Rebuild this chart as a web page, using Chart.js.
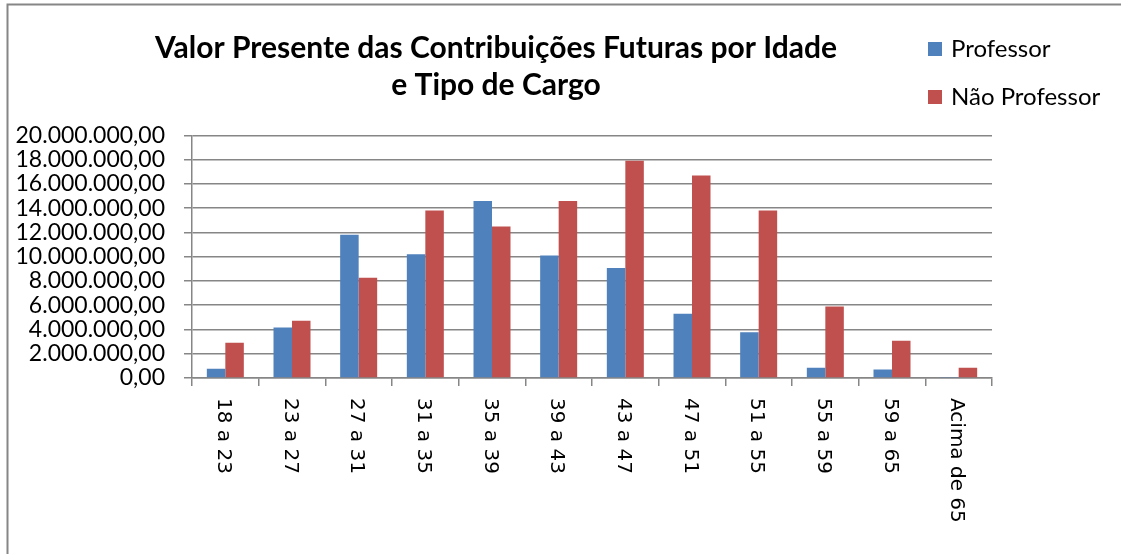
<html>
<head>
    <title>Valor Presente das Contribuições Futuras</title>
    <meta charset="utf-8">
    <script src="https://cdn.jsdelivr.net/npm/chart.js@4.4.1/dist/chart.umd.min.js"></script>
    <style>
        html, body { margin: 0; padding: 0; background: #fff; }
        #wrap { width: 1121px; height: 554px; }
    </style>
</head>
<body>
    <div id="wrap"><canvas id="chart"></canvas></div>
    <script>
        // faixas etarias
        const faixas = ['18 a 23', '23 a 27', '27 a 31', '31 a 35', '35 a 39', '39 a 43',
            '43 a 47', '47 a 51', '51 a 55', '55 a 59', '59 a 65', 'Acima de 65'];
        const professor = [770000, 4160000, 11800000, 10200000, 14600000, 10100000,
            9070000, 5290000, 3780000, 850000, 710000, 50000];
        const naoProfessor = [2900000, 4710000, 8270000, 13800000, 12500000, 14600000,
            17900000, 16700000, 13800000, 5890000, 3070000, 850000];
        const yMin = 0, yMax = 20000000, yStep = 2000000;
        const titulo = ['Valor Presente das Contribuições Futuras por Idade', 'e Tipo de Cargo'];

        const AZUL = '#4F81BD';
        const VERMELHO = '#C0504D';
        const CINZA = '#868686';

        // 20000000 -> "20.000.000,00"
        function formatBR(v) {
            const inteiro = Math.round(v).toString().replace(/\B(?=(\d{3})+(?!\d))/g, '.');
            return inteiro + ',00';
        }

        /* moldura + fundo */
        const moldura = {
            id: 'moldura',
            beforeDraw(chart) {
                const ctx = chart.ctx;
                ctx.save();
                ctx.fillStyle = '#fff';
                ctx.fillRect(0, 0, chart.width, chart.height);
                ctx.strokeStyle = CINZA;
                ctx.lineWidth = 2;
                ctx.beginPath();
                ctx.moveTo(7.5, chart.height + 2);
                ctx.lineTo(7.5, 4.5);
                ctx.lineTo(chart.width + 2, 4.5);
                ctx.stroke();
                ctx.restore();
            }
        };

        /* legenda no canto superior direito */
        const legenda = {
            id: 'legenda',
            afterDraw(chart) {
                const ctx = chart.ctx;
                const itens = chart.data.datasets;
                ctx.save();
                ctx.font = '24px Lato';
                ctx.textBaseline = 'middle';
                ctx.textAlign = 'left';
                for (let i = 0; i < itens.length; i++) {
                    const y = 49 + i * 48;
                    ctx.fillStyle = itens[i].backgroundColor;
                    ctx.fillRect(928, y - 7, 14, 14);
                    ctx.fillStyle = '#000';
                    ctx.fillText(itens[i].label, 951, y);
                }
                ctx.restore();
            }
        };

        /* rotulos do eixo x girados 90 graus (lidos de cima para baixo) */
        const rotulosX = {
            id: 'rotulosX',
            afterDraw(chart) {
                const ctx = chart.ctx;
                const xs = chart.scales.x;
                ctx.save();
                ctx.font = '20px "DejaVu Sans"';
                ctx.fillStyle = '#000';
                ctx.textAlign = 'left';
                ctx.textBaseline = 'middle';
                for (let i = 0; i < chart.data.labels.length; i++) {
                    const px = xs.getPixelForTick(i);
                    ctx.save();
                    ctx.translate(px - 2, xs.top + 20);
                    ctx.rotate(Math.PI / 2);
                    ctx.fillText(chart.data.labels[i], 0, 0);
                    ctx.restore();
                }
                ctx.restore();
            }
        };

        new Chart(document.getElementById('chart'), {
            type: 'bar',
            data: {
                labels: faixas,
                datasets: [
                    { label: 'Professor', data: professor, backgroundColor: AZUL },
                    { label: 'Não Professor', data: naoProfessor, backgroundColor: VERMELHO }
                ]
            },
            options: {
                responsive: true,
                maintainAspectRatio: false,
                animation: false,
                events: [],
                datasets: {
                    bar: { categoryPercentage: 0.555, barPercentage: 1.0 }
                },
                layout: { padding: { left: 0, right: 129, top: 0, bottom: 0 } },
                plugins: {
                    legend: { display: false },
                    tooltip: { enabled: false },
                    title: {
                        display: true,
                        text: titulo,
                        color: '#000',
                        font: { family: 'Lato', size: 30, weight: 'bold', lineHeight: 1.24 },
                        padding: { top: 30, bottom: 31 }
                    }
                },
                scales: {
                    x: {
                        afterFit(scale) { scale.height = 176; },
                        grid: {
                            display: true,
                            drawOnChartArea: false,
                            drawTicks: true,
                            tickLength: 8,
                            color: CINZA,
                            lineWidth: 1.5
                        },
                        border: { display: true, color: CINZA, width: 1.5 },
                        ticks: { display: false }
                    },
                    y: {
                        min: yMin,
                        max: yMax,
                        afterFit(scale) { scale.width = 192; },
                        grid: {
                            color: CINZA,
                            lineWidth: 1.5,
                            tickLength: 8
                        },
                        border: { display: true, color: CINZA, width: 1.5 },
                        ticks: {
                            stepSize: yStep,
                            autoSkip: false,
                            padding: 19,
                            color: '#000',
                            font: { family: 'Lato', size: 23, lineHeight: 1 },
                            callback: (v) => formatBR(v)
                        }
                    }
                }
            },
            plugins: [moldura, legenda, rotulosX]
        });
    </script>
</body>
</html>
